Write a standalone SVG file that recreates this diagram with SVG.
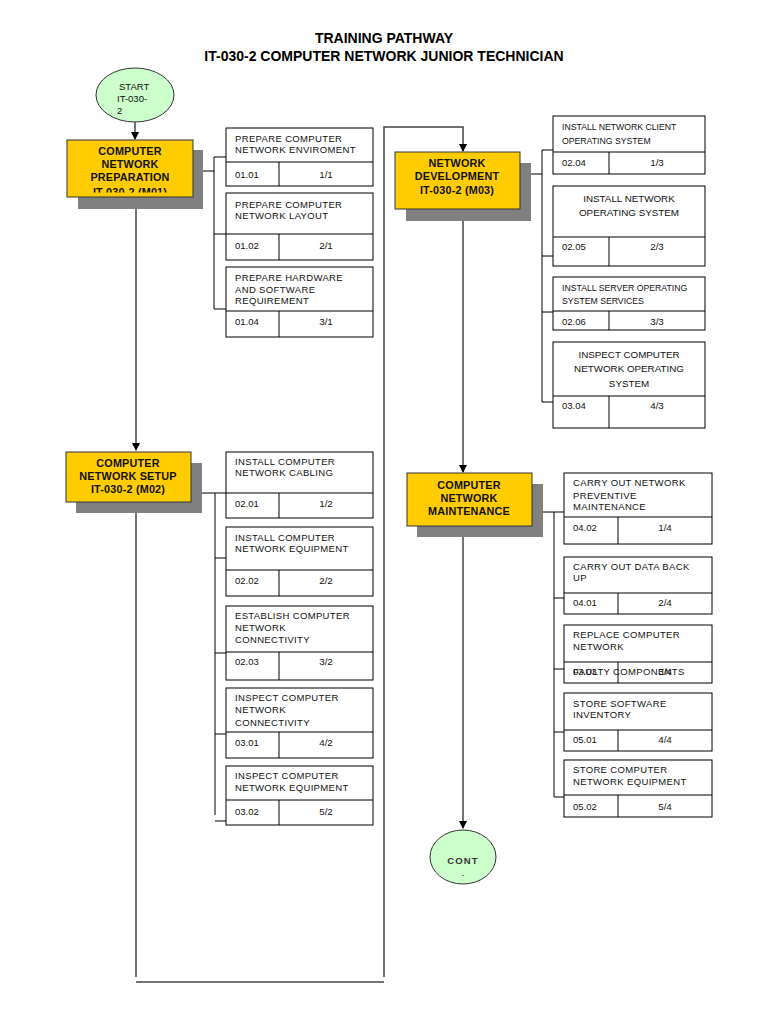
<svg xmlns="http://www.w3.org/2000/svg" width="768" height="1024" viewBox="0 0 768 1024">
<style>
.title{font-family:"Liberation Sans",Arial,sans-serif;font-weight:bold;font-size:14px;fill:#000;text-anchor:middle}
.mod{fill:#ffcc00;stroke:#333;stroke-width:1}
.shadow{fill:#808080}
.mt{font-family:"Liberation Sans",Arial,sans-serif;font-weight:bold;font-size:10.8px;letter-spacing:0.2px;fill:#111;text-anchor:middle}
.ell{fill:#ccffcc;stroke:#333;stroke-width:1}
.et{font-family:"Liberation Sans",Arial,sans-serif;font-size:9.5px;fill:#111}
.box{fill:#fff;stroke:#000;stroke-width:1}
.div{stroke:#000;stroke-width:1}
.ut{font-family:"Liberation Sans",Arial,sans-serif;font-size:9.5px;letter-spacing:0.35px;fill:#111}
.us{font-family:"Liberation Sans",Arial,sans-serif;font-size:8.7px;fill:#111}
.uc{font-family:"Liberation Sans",Arial,sans-serif;font-size:9.8px;fill:#111;text-anchor:middle}
.uk{font-family:"Liberation Sans",Arial,sans-serif;font-size:9.5px;fill:#111}
.flow{fill:none;stroke:#444;stroke-width:1.5}
.br{fill:none;stroke:#000;stroke-width:1}
</style>
<defs>
<marker id="ah" markerWidth="8" markerHeight="8" refX="7" refY="4" orient="auto" markerUnits="userSpaceOnUse">
<path d="M0,0 L8,4 L0,8 Z" fill="#000"/>
</marker>
<clipPath id="c1"><rect x="67" y="140" width="126" height="52.5"/></clipPath>
</defs>

<g id="title">
<text class="title" x="384" y="43">TRAINING PATHWAY</text>
<text class="title" x="384" y="61">IT-030-2 COMPUTER NETWORK JUNIOR TECHNICIAN</text>
</g>

<g id="connectors">
<path class="flow" d="M135,122 V139" marker-end="url(#ah)"/>
<path class="flow" d="M136,209 V450" marker-end="url(#ah)"/>
<path class="flow" d="M136,513 V977"/>
<path class="flow" d="M136,982 H384"/>
<path class="flow" d="M384,977 V127 H463 V151" marker-end="url(#ah)"/>
<path class="flow" d="M463,221 V472" marker-end="url(#ah)"/>
<path class="flow" d="M463,537 V828" marker-end="url(#ah)"/>
<!-- M01 bracket -->
<path class="br" d="M203,171 H214 M214,157 V309 M214,157 H226 M214,234 H226 M214,309 H226"/>
<!-- M02 bracket -->
<path class="br" d="M202,493 H226 M215,493 V815 M215,558 H226 M215,653 H226 M215,734 H226 M215,821 H226"/>
<!-- M03 bracket -->
<path class="br" d="M531,174 H542 M542,150 V402 M542,150 H553 M542,256 H553 M542,312 H553 M542,402 H553"/>
<!-- M04 bracket -->
<path class="br" d="M543,512 H564 M554,512 V797 M554,598 H564 M554,669 H564 M554,732 H564 M554,797 H564"/>
</g>

<g id="start">
<ellipse class="ell" cx="135" cy="95" rx="39" ry="27"/>
<text class="et" x="119" y="90">START</text>
<text class="et" x="117" y="102">IT-030-</text>
<text class="et" x="117" y="114">2</text>
</g>

<g id="m01">
<rect class="shadow" x="78" y="150" width="125" height="59"/>
<rect class="mod" x="67" y="140" width="126" height="57"/>
<g clip-path="url(#c1)">
<text class="mt" x="130" y="155">COMPUTER</text>
<text class="mt" x="130" y="168">NETWORK</text>
<text class="mt" x="130" y="181">PREPARATION</text>
<text class="mt" x="130" y="195.5">IT-030-2 (M01)</text>
</g>
</g>

<g id="u0101">
<rect class="box" x="226" y="128" width="147" height="58"/>
<path class="div" d="M226,162 H373 M279,162 V186"/>
<text class="ut" x="235" y="142">PREPARE COMPUTER</text>
<text class="ut" x="235" y="153">NETWORK ENVIROMENT</text>
<text class="uk" x="235" y="178">01.01</text>
<text class="uc" x="326" y="178">1/1</text>
</g>
<g id="u0102">
<rect class="box" x="226" y="193" width="147" height="67"/>
<path class="div" d="M226,234 H373 M279,234 V260"/>
<text class="ut" x="235" y="208">PREPARE COMPUTER</text>
<text class="ut" x="235" y="219">NETWORK LAYOUT</text>
<text class="uk" x="235" y="249">01.02</text>
<text class="uc" x="326" y="249">2/1</text>
</g>
<g id="u0104">
<rect class="box" x="226" y="267" width="147" height="70"/>
<path class="div" d="M226,311 H373 M279,311 V337"/>
<text class="ut" x="235" y="281">PREPARE HARDWARE</text>
<text class="ut" x="235" y="293">AND SOFTWARE</text>
<text class="ut" x="235" y="304">REQUIREMENT</text>
<text class="uk" x="235" y="325">01.04</text>
<text class="uc" x="326" y="325">3/1</text>
</g>

<g id="m02">
<rect class="shadow" x="76" y="463" width="126" height="50"/>
<rect class="mod" x="66" y="452" width="125" height="50"/>
<text class="mt" x="128" y="467">COMPUTER</text>
<text class="mt" x="128" y="480">NETWORK SETUP</text>
<text class="mt" x="128" y="493">IT-030-2 (M02)</text>
</g>

<g id="u0201">
<rect class="box" x="226" y="452" width="147" height="66"/>
<path class="div" d="M226,493 H373 M279,493 V518"/>
<text class="ut" x="235" y="465">INSTALL COMPUTER</text>
<text class="ut" x="235" y="476">NETWORK CABLING</text>
<text class="uk" x="235" y="507">02.01</text>
<text class="uc" x="326" y="507">1/2</text>
</g>
<g id="u0202">
<rect class="box" x="226" y="527" width="147" height="69"/>
<path class="div" d="M226,570 H373 M279,570 V596"/>
<text class="ut" x="235" y="541">INSTALL COMPUTER</text>
<text class="ut" x="235" y="552">NETWORK EQUIPMENT</text>
<text class="uk" x="235" y="584">02.02</text>
<text class="uc" x="326" y="584">2/2</text>
</g>
<g id="u0203">
<rect class="box" x="226" y="606" width="147" height="74"/>
<path class="div" d="M226,652 H373 M279,652 V680"/>
<text class="ut" x="235" y="619">ESTABLISH COMPUTER</text>
<text class="ut" x="235" y="631">NETWORK</text>
<text class="ut" x="235" y="643">CONNECTIVITY</text>
<text class="uk" x="235" y="665">02.03</text>
<text class="uc" x="326" y="665">3/2</text>
</g>
<g id="u0301">
<rect class="box" x="226" y="688" width="147" height="70"/>
<path class="div" d="M226,732 H373 M279,732 V758"/>
<text class="ut" x="235" y="701">INSPECT COMPUTER</text>
<text class="ut" x="235" y="713">NETWORK</text>
<text class="ut" x="235" y="726">CONNECTIVITY</text>
<text class="uk" x="235" y="746">03.01</text>
<text class="uc" x="326" y="746">4/2</text>
</g>
<g id="u0302">
<rect class="box" x="226" y="766" width="147" height="59"/>
<path class="div" d="M226,800 H373 M279,800 V825"/>
<text class="ut" x="235" y="779">INSPECT COMPUTER</text>
<text class="ut" x="235" y="791">NETWORK EQUIPMENT</text>
<text class="uk" x="235" y="815">03.02</text>
<text class="uc" x="326" y="815">5/2</text>
</g>

<g id="m03">
<rect class="shadow" x="406" y="163" width="125" height="58"/>
<rect class="mod" x="395" y="152" width="125" height="57"/>
<text class="mt" x="457" y="167">NETWORK</text>
<text class="mt" x="457" y="180">DEVELOPMENT</text>
<text class="mt" x="457" y="194">IT-030-2 (M03)</text>
</g>

<g id="u0204">
<rect class="box" x="553" y="116" width="152" height="58"/>
<path class="div" d="M553,152 H705 M609,152 V174"/>
<text class="us" x="562" y="130">INSTALL NETWORK CLIENT</text>
<text class="us" x="562" y="144">OPERATING SYSTEM</text>
<text class="uk" x="562" y="166">02.04</text>
<text class="uc" x="657" y="166">1/3</text>
</g>
<g id="u0205">
<rect class="box" x="553" y="186" width="152" height="80"/>
<path class="div" d="M553,237 H705 M609,237 V266"/>
<text class="uc" x="629" y="202">INSTALL NETWORK</text>
<text class="uc" x="629" y="216">OPERATING SYSTEM</text>
<text class="uk" x="562" y="250">02.05</text>
<text class="uc" x="657" y="250">2/3</text>
</g>
<g id="u0206">
<rect class="box" x="553" y="277" width="152" height="53"/>
<path class="div" d="M553,311 H705 M609,311 V330"/>
<text class="us" x="562" y="291">INSTALL SERVER OPERATING</text>
<text class="us" x="562" y="304">SYSTEM SERVICES</text>
<text class="uk" x="562" y="325">02.06</text>
<text class="uc" x="657" y="325">3/3</text>
</g>
<g id="u0304">
<rect class="box" x="553" y="342" width="152" height="86"/>
<path class="div" d="M553,396 H705 M609,396 V428"/>
<text class="uc" x="629" y="358">INSPECT COMPUTER</text>
<text class="uc" x="629" y="372">NETWORK OPERATING</text>
<text class="uc" x="629" y="387">SYSTEM</text>
<text class="uk" x="562" y="409">03.04</text>
<text class="uc" x="657" y="409">4/3</text>
</g>

<g id="m04">
<rect class="shadow" x="417" y="484" width="126" height="53"/>
<rect class="mod" x="407" y="473" width="125" height="53"/>
<text class="mt" x="469" y="489">COMPUTER</text>
<text class="mt" x="469" y="502">NETWORK</text>
<text class="mt" x="469" y="515">MAINTENANCE</text>
</g>

<g id="u0402">
<rect class="box" x="564" y="473" width="148" height="71"/>
<path class="div" d="M564,517 H712 M618,517 V544"/>
<text class="ut" x="573" y="486">CARRY OUT NETWORK</text>
<text class="ut" x="573" y="499">PREVENTIVE</text>
<text class="ut" x="573" y="510">MAINTENANCE</text>
<text class="uk" x="573" y="531">04.02</text>
<text class="uc" x="665" y="531">1/4</text>
</g>
<g id="u0401">
<rect class="box" x="564" y="557" width="148" height="57"/>
<path class="div" d="M564,593 H712 M618,593 V614"/>
<text class="ut" x="573" y="570">CARRY OUT DATA BACK</text>
<text class="ut" x="573" y="581">UP</text>
<text class="uk" x="573" y="606">04.01</text>
<text class="uc" x="665" y="606">2/4</text>
</g>
<g id="u0403">
<rect class="box" x="564" y="625" width="148" height="58"/>
<path class="div" d="M564,662 H712 M618,662 V683"/>
<text class="ut" x="573" y="638">REPLACE COMPUTER</text>
<text class="ut" x="573" y="650">NETWORK</text>
<text class="ut" x="573" y="675">FAULTY COMPONENTS</text>
<text class="uk" x="573" y="675">03.03</text>
<text class="uc" x="665" y="675">3/4</text>
</g>
<g id="u0501">
<rect class="box" x="564" y="693" width="148" height="58"/>
<path class="div" d="M564,730 H712 M618,730 V751"/>
<text class="ut" x="573" y="707">STORE SOFTWARE</text>
<text class="ut" x="573" y="718">INVENTORY</text>
<text class="uk" x="573" y="743">05.01</text>
<text class="uc" x="665" y="743">4/4</text>
</g>
<g id="u0502">
<rect class="box" x="564" y="760" width="148" height="57"/>
<path class="div" d="M564,795 H712 M618,795 V817"/>
<text class="ut" x="573" y="773">STORE COMPUTER</text>
<text class="ut" x="573" y="785">NETWORK EQUIPMENT</text>
<text class="uk" x="573" y="810">05.02</text>
<text class="uc" x="665" y="810">5/4</text>
</g>

<g id="cont">
<ellipse class="ell" cx="463" cy="857" rx="33" ry="27"/>
<text class="et" x="463" y="864" text-anchor="middle" style="font-weight:bold;font-size:9.5px;letter-spacing:1.2px;fill:#333">CONT</text>
<text class="et" x="463" y="876" text-anchor="middle">.</text>
</g>
</svg>
